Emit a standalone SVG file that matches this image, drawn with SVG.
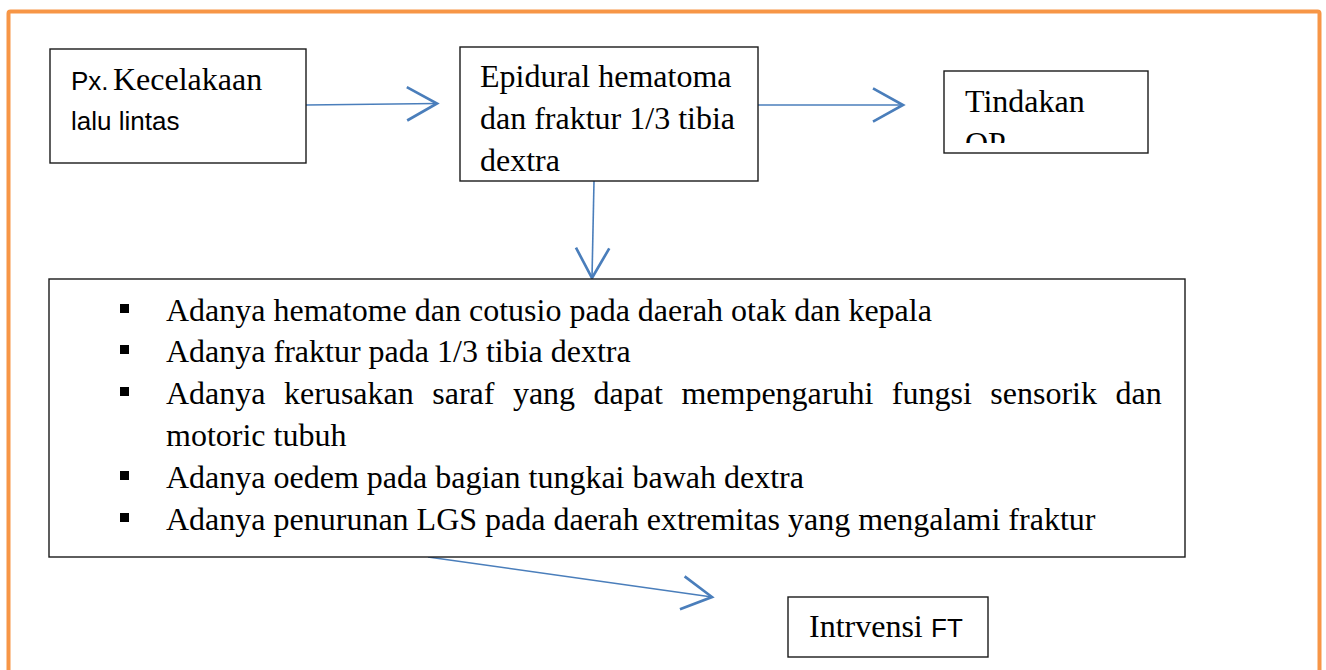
<svg xmlns="http://www.w3.org/2000/svg" width="1326" height="670" viewBox="0 0 1326 670">
<style>
.box{fill:#fff;stroke:#1a1a1a;stroke-width:1.4}
.serif{font-family:"Liberation Serif","Times New Roman",serif;font-size:32px;fill:#000}
.sans{font-family:"Liberation Sans",Arial,sans-serif;font-size:26px;fill:#000}
.conn{stroke:#4A7EBB;stroke-width:1.6;fill:none}
.bul{fill:#000}
</style>
<defs>
<marker id="vh" markerUnits="userSpaceOnUse" markerWidth="40" markerHeight="40" viewBox="-20 -12 22 24" refX="0" refY="0" orient="auto">
<path d="M-18,-10 L0,0 L-18,10" fill="none" stroke="#4A7EBB" stroke-width="1.6"/>
</marker>
<clipPath id="clip3"><rect x="945" y="72" width="202" height="71"/></clipPath>
</defs>
<rect x="0" y="0" width="1326" height="670" fill="#fff"/>
<rect x="8.5" y="11.5" width="1311" height="720" rx="2" fill="none" stroke="#F79646" stroke-width="4"/>

<g id="connectors">
<line class="conn" x1="306" y1="105" x2="437" y2="103.5" marker-end="url(#vh)"/>
<line class="conn" x1="758" y1="105" x2="903" y2="105" marker-end="url(#vh)"/>
<line class="conn" x1="594" y1="181" x2="592" y2="278" marker-end="url(#vh)"/>
<line class="conn" x1="428" y1="557" x2="712" y2="597" marker-end="url(#vh)"/>
</g>

<g id="node-px">
<rect class="box" x="50" y="49" width="256" height="114"/>
<text x="71" y="90"><tspan class="sans">Px.</tspan><tspan class="serif" x="113">Kecelakaan</tspan></text>
<text class="sans" x="71" y="130">lalu lintas</text>
</g>

<g id="node-epidural">
<rect class="box" x="460" y="47" width="298" height="134"/>
<text class="serif" x="480" y="87">Epidural hematoma</text>
<text class="serif" x="480" y="129">dan fraktur 1/3 tibia</text>
<text class="serif" x="480" y="171">dextra</text>
</g>

<g id="node-tindakan">
<rect class="box" x="944" y="71" width="204" height="82"/>
<g clip-path="url(#clip3)">
<text class="serif" x="965" y="112">Tindakan</text>
<text class="serif" x="965" y="154">OP</text>
</g>
</g>

<g id="node-findings">
<rect class="box" x="49" y="279" width="1136" height="278"/>
<rect class="bul" x="120" y="304" width="9" height="9"/>
<rect class="bul" x="120" y="345" width="9" height="9"/>
<rect class="bul" x="120" y="387" width="9" height="9"/>
<rect class="bul" x="120" y="471" width="9" height="9"/>
<rect class="bul" x="120" y="513" width="9" height="9"/>
<text class="serif" x="166" y="321">Adanya hematome dan cotusio pada daerah otak dan kepala</text>
<text class="serif" x="166" y="362">Adanya fraktur pada 1/3 tibia dextra</text>
<text class="serif" x="166" y="404" word-spacing="10.5">Adanya kerusakan saraf yang dapat mempengaruhi fungsi sensorik dan</text>
<text class="serif" x="166" y="446">motoric tubuh</text>
<text class="serif" x="166" y="488">Adanya oedem pada bagian tungkai bawah dextra</text>
<text class="serif" x="166" y="530">Adanya penurunan LGS pada daerah extremitas yang mengalami fraktur</text>
</g>

<g id="node-intervensi">
<rect class="box" x="788" y="597" width="200" height="60"/>
<text x="809" y="637"><tspan class="serif">Intrvensi</tspan><tspan class="sans" x="931" font-size="25">FT</tspan></text>
</g>
</svg>
